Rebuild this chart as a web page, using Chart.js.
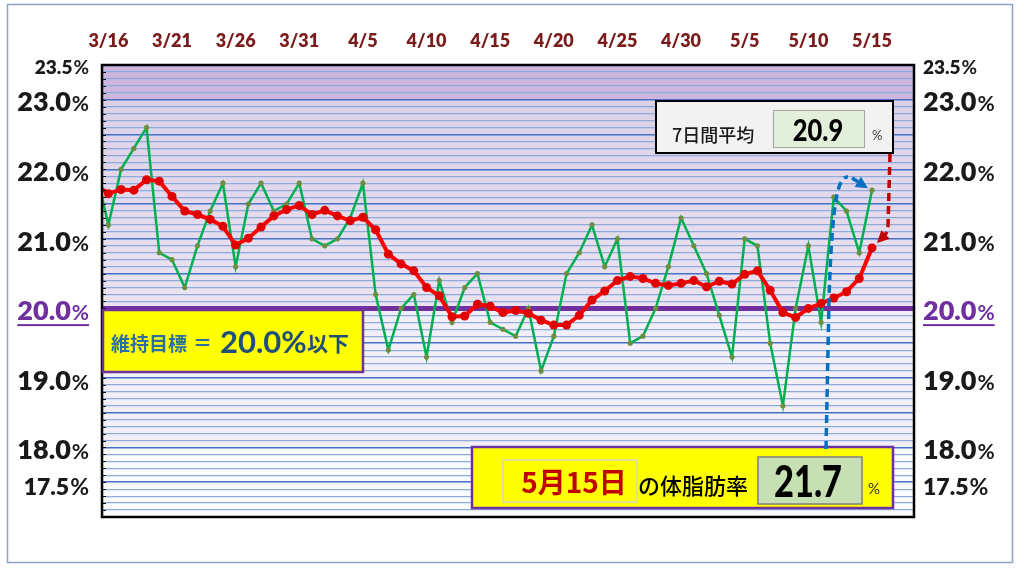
<!DOCTYPE html>
<html>
<head>
<meta charset="utf-8">
<script src="https://cdn.jsdelivr.net/npm/chart.js@4.4.1/dist/chart.umd.min.js"></script>
<style>
  html, body { margin: 0; padding: 0; background: #fff; }
  canvas { display: block; }
</style>
</head>
<body>
<canvas id="fatChart" width="1024" height="572"></canvas>
<script>
// dates from 3/15 (only the edge of that day shows) to 5/15
const dates = [
  '3/15', '3/16', '3/17', '3/18', '3/19', '3/20', '3/21', '3/22', '3/23', '3/24', '3/25',
  '3/26', '3/27', '3/28', '3/29', '3/30', '3/31',
  '4/1', '4/2', '4/3', '4/4', '4/5', '4/6', '4/7', '4/8', '4/9', '4/10',
  '4/11', '4/12', '4/13', '4/14', '4/15', '4/16', '4/17', '4/18', '4/19', '4/20',
  '4/21', '4/22', '4/23', '4/24', '4/25', '4/26', '4/27', '4/28', '4/29', '4/30',
  '5/1', '5/2', '5/3', '5/4', '5/5', '5/6', '5/7', '5/8', '5/9', '5/10',
  '5/11', '5/12', '5/13', '5/14', '5/15'
];

// daily body fat rate (%)
const dailyRate = [
  22.0, 21.2, 22.0, 22.3, 22.6, 20.8, 20.7, 20.3, 20.9, 21.4, 21.8,
  20.6, 21.5, 21.8, 21.4, 21.5, 21.8,
  21.0, 20.9, 21.0, 21.3, 21.8, 20.2, 19.4, 20.0, 20.2, 19.3,
  20.4, 19.8, 20.3, 20.5, 19.8, 19.7, 19.6, 20.0, 19.1, 19.6,
  20.5, 20.8, 21.2, 20.6, 21.0, 19.5, 19.6, 20.0, 20.6, 21.3,
  20.9, 20.5, 19.9, 19.3, 21.0, 20.9, 19.5, 18.6, 20.0, 20.9,
  19.8, 21.6, 21.4, 20.8, 21.7
];

// 7 day average (%)
const weekAvg = [
  21.78, 21.65, 21.71, 21.70, 21.85, 21.83, 21.61, 21.40, 21.35, 21.28, 21.18,
  20.91, 21.01, 21.17, 21.33, 21.42, 21.48,
  21.35, 21.41, 21.33, 21.26, 21.31, 21.13, 20.78, 20.64, 20.54, 20.30,
  20.18, 19.88, 19.89, 20.06, 20.03, 19.94, 19.97, 19.93, 19.83, 19.76,
  19.76, 19.90, 20.12, 20.25, 20.40, 20.46, 20.43, 20.36, 20.33, 20.36,
  20.40, 20.31, 20.39, 20.35, 20.49, 20.54, 20.26, 19.94, 19.87, 20.00,
  20.07, 20.15, 20.24, 20.43, 20.87
];

const tickDates = ['3/16', '3/21', '3/26', '3/31', '4/5', '4/10', '4/15', '4/20', '4/25', '4/30', '5/5', '5/10', '5/15'];
const yLabelValues = [23.5, 23.0, 22.0, 21.0, 20.0, 19.0, 18.0, 17.5];
const targetRate = 20.0;

// x = days after 3/16
const dayOf = (d) => dates.indexOf(d) - 1;
const toPoints = (arr) => arr.map((v, i) => ({ x: i - 1, y: v }));
const gridSteps = Array.from({ length: 66 }, (_, i) => (170 + i) / 10);

const last = dates.length - 1;

function pctLabel(ctx, value, x, y, align, numSize, pctSize, color, underline) {
  const num = value.toFixed(1);
  ctx.font = `800 ${numSize}px Lato`;
  const wn = ctx.measureText(num).width;
  ctx.font = `bold ${pctSize}px Lato`;
  const wp = ctx.measureText('%').width;
  const x0 = align === 'right' ? x - wn - wp : x;
  const base = y + numSize * 0.36;
  ctx.fillStyle = color;
  ctx.textAlign = 'left';
  ctx.textBaseline = 'alphabetic';
  ctx.font = `800 ${numSize}px Lato`;
  ctx.fillText(num, x0, base);
  ctx.font = `bold ${pctSize}px Lato`;
  ctx.fillText('%', x0 + wn + 1, base);
  if (underline) ctx.fillRect(x0, base + 4, wn + wp + 1, 2);
}

function arrowHead(ctx, fromX, fromY, tipX, tipY, len, half) {
  const a = Math.atan2(tipY - fromY, tipX - fromX);
  ctx.beginPath();
  ctx.moveTo(tipX, tipY);
  ctx.lineTo(tipX - len * Math.cos(a) + half * Math.sin(a), tipY - len * Math.sin(a) - half * Math.cos(a));
  ctx.lineTo(tipX - len * Math.cos(a) - half * Math.sin(a), tipY - len * Math.sin(a) + half * Math.cos(a));
  ctx.closePath();
  ctx.fill();
}

const backdrop = {
  id: 'backdrop',
  beforeDraw(chart) {
    const { ctx, chartArea: a, scales: { y } } = chart;
    const yp = (v) => y.getPixelForValue(v);
    ctx.save();
    ctx.fillStyle = '#ffffff';
    ctx.fillRect(0, 0, chart.width, chart.height);
    ctx.fillStyle = '#cdb6dd';
    ctx.fillRect(a.left, yp(23.5), a.width, yp(23.0) - yp(23.5));
    const g = ctx.createLinearGradient(0, yp(23.0), 0, yp(20.0));
    g.addColorStop(0, '#dcd0e7');
    g.addColorStop(1, '#ebe3f1');
    ctx.fillStyle = g;
    ctx.fillRect(a.left, yp(23.0), a.width, yp(20.0) - yp(23.0));
    ctx.fillStyle = '#f3eff8';
    ctx.fillRect(a.left, yp(20.0), a.width, yp(18.0) - yp(20.0));
    ctx.fillStyle = '#fafbfd';
    ctx.fillRect(a.left, yp(18.0), a.width, yp(17.0) - yp(18.0));
    ctx.strokeStyle = '#8ea4c4';
    ctx.lineWidth = 1.5;
    ctx.strokeRect(7.5, 4.5, 1005, 558);
    ctx.restore();
  },
  beforeDatasetsDraw(chart) {
    const { ctx, chartArea: a, scales: { y } } = chart;
    const ty = y.getPixelForValue(targetRate);
    ctx.save();
    ctx.strokeStyle = '#7030a0';
    ctx.lineWidth = 5;
    ctx.beginPath();
    ctx.moveTo(a.left, ty);
    ctx.lineTo(a.right, ty);
    ctx.stroke();
    ctx.restore();
  },
  afterDatasetsDraw(chart) {
    const { ctx, chartArea: a, scales: { y } } = chart;
    ctx.save();
    ctx.strokeStyle = '#111';
    ctx.lineWidth = 1;
    ctx.beginPath();
    gridSteps.forEach((v) => {
      const py = Math.round(y.getPixelForValue(v)) + 0.5;
      ctx.moveTo(a.left, py);
      ctx.lineTo(a.left + 4, py);
    });
    ctx.stroke();
    ctx.lineWidth = 2.5;
    ctx.strokeStyle = '#000';
    ctx.strokeRect(a.left, a.top, a.width, a.height);
    ctx.restore();
  },
  afterDraw(chart) {
    const { ctx, chartArea: a, scales: { x, y } } = chart;
    ctx.save();

    // side labels
    yLabelValues.forEach((v) => {
      const py = y.getPixelForValue(v) + (v === 17.5 ? 4 : 2);
      let sizes = [27, 21];
      if (v === 23.5) sizes = [19, 19];
      if (v === 17.5) sizes = [23, 23];
      const isTarget = v === targetRate;
      const color = isTarget ? '#7030a0' : '#1a1a1a';
      pctLabel(ctx, v, a.left - 14, py, 'right', sizes[0], sizes[1], color, isTarget);
      pctLabel(ctx, v, a.right + 9, py, 'left', sizes[0], sizes[1], color, isTarget);
    });

    // target box
    ctx.fillStyle = '#ffff00';
    ctx.fillRect(103, 310, 260, 62);
    ctx.strokeStyle = '#7030a0';
    ctx.lineWidth = 2.5;
    ctx.strokeRect(103, 310, 260, 62);
    ctx.textAlign = 'left';
    ctx.textBaseline = 'alphabetic';
    ctx.fillStyle = '#2e6ca4';
    ctx.font = 'bold 19px "Noto Sans CJK JP"';
    ctx.fillText('維持目標', 111, 351);
    ctx.fillText('＝', 193, 350);
    ctx.fillStyle = '#1f4e79';
    ctx.font = 'bold 31px Lato';
    ctx.fillText(targetRate.toFixed(1) + '%', 220, 353);
    ctx.font = 'bold 21px "Noto Sans CJK JP"';
    ctx.fillText('以下', 307, 351);

    // 7 day average box
    ctx.fillStyle = '#f2f2f2';
    ctx.fillRect(656, 101, 237, 52);
    ctx.strokeStyle = '#000';
    ctx.lineWidth = 2;
    ctx.strokeRect(656, 101, 237, 52);
    ctx.fillStyle = '#1a1a1a';
    ctx.font = '500 18px "Noto Sans CJK JP"';
    ctx.fillText('7日間平均', 672, 142);
    ctx.fillStyle = '#e2efda';
    ctx.fillRect(773, 110, 91, 37);
    ctx.strokeStyle = '#a5a5a5';
    ctx.lineWidth = 1;
    ctx.strokeRect(773.5, 110.5, 91, 37);
    ctx.save();
    ctx.translate(818, 141);
    ctx.scale(0.85, 1);
    ctx.fillStyle = '#000';
    ctx.textAlign = 'center';
    ctx.font = '900 30px Lato';
    ctx.fillText(weekAvg[last].toFixed(1), 0, 0);
    ctx.restore();
    ctx.fillStyle = '#404040';
    ctx.font = '13px Lato';
    ctx.fillText('%', 872, 140);

    // latest day box
    const [mon, day] = dates[last].split('/');
    ctx.fillStyle = '#ffff00';
    ctx.fillRect(472, 447, 421, 61);
    ctx.strokeStyle = '#7030a0';
    ctx.lineWidth = 2.5;
    ctx.strokeRect(472, 447, 421, 61);
    ctx.strokeStyle = '#d4d8c4';
    ctx.lineWidth = 1.5;
    ctx.strokeRect(503, 460, 134, 42);
    ctx.fillStyle = '#c00000';
    ctx.textAlign = 'center';
    ctx.font = 'bold 28px "Noto Sans CJK JP"';
    ctx.fillText(`${mon}月${day}日`, 574, 493);
    ctx.textAlign = 'left';
    ctx.fillStyle = '#000';
    ctx.font = '500 22px "Noto Sans CJK JP"';
    ctx.fillText('の体脂肪率', 638, 494);
    ctx.fillStyle = '#c6e0b4';
    ctx.fillRect(758, 457, 104, 47);
    ctx.strokeStyle = '#7f7f7f';
    ctx.lineWidth = 1.5;
    ctx.strokeRect(758, 457, 104, 47);
    ctx.save();
    ctx.translate(808, 497);
    ctx.scale(0.8, 1);
    ctx.fillStyle = '#000';
    ctx.textAlign = 'center';
    ctx.font = '900 43px Lato';
    ctx.fillText(dailyRate[last].toFixed(1), 0, 0);
    ctx.restore();
    ctx.fillStyle = '#333';
    ctx.font = '15px Lato';
    ctx.fillText('%', 868, 494);

    // arrows pointing at the last points
    const gx = x.getPixelForValue(last - 1);
    const gy = y.getPixelForValue(dailyRate[last]);
    const ry = y.getPixelForValue(weekAvg[last]);

    ctx.lineWidth = 3.5;
    ctx.setLineDash([8, 5]);
    ctx.strokeStyle = '#0070c0';
    ctx.beginPath();
    ctx.moveTo(gx - 46, 449);
    ctx.lineTo(gx - 43, 300);
    ctx.bezierCurveTo(gx - 40, 200, gx - 34, 176, gx - 24, 177);
    ctx.stroke();
    ctx.beginPath();
    ctx.moveTo(gx - 20, 178);
    ctx.lineTo(gx - 12, 183);
    ctx.stroke();
    ctx.setLineDash([]);
    ctx.fillStyle = '#0070c0';
    arrowHead(ctx, gx - 22, 177, gx - 4, gy - 2, 12, 6);

    ctx.setLineDash([8, 5]);
    ctx.strokeStyle = '#c00000';
    ctx.beginPath();
    ctx.moveTo(gx + 18, 154);
    ctx.lineTo(gx + 16, 226);
    ctx.quadraticCurveTo(gx + 15, 234, gx + 12, 236);
    ctx.stroke();
    ctx.setLineDash([]);
    ctx.fillStyle = '#c00000';
    arrowHead(ctx, gx + 16, 232, gx + 5, ry - 5, 12, 6);

    ctx.restore();
  }
};

new Chart(document.getElementById('fatChart'), {
  type: 'line',
  data: {
    datasets: [
      {
        label: '体脂肪率',
        data: toPoints(dailyRate),
        borderColor: '#00b050',
        borderWidth: 2.5,
        pointRadius: 2.6,
        pointBackgroundColor: '#6b8f3c',
        pointBorderWidth: 0,
        order: 2,
        clip: 0,
      },
      {
        label: '7日間平均',
        data: toPoints(weekAvg),
        borderColor: '#ff0000',
        borderWidth: 4,
        pointRadius: 4.5,
        pointBackgroundColor: '#e00000',
        pointBorderWidth: 0,
        order: 1,
        clip: 0,
      },
    ],
  },
  options: {
    responsive: false,
    animation: false,
    devicePixelRatio: 1,
    events: [],
    layout: { padding: { left: 102, right: 110, top: 0, bottom: 55 } },
    plugins: {
      legend: { display: false },
      tooltip: { enabled: false },
    },
    scales: {
      x: {
        type: 'linear',
        position: 'top',
        min: -0.5,
        max: 63.3,
        afterBuildTicks: (axis) => {
          axis.ticks = tickDates.map((d) => ({ value: dayOf(d) }));
        },
        afterFit: (axis) => {
          axis.height = 65;
        },
        grid: { display: false, drawTicks: false },
        border: { display: false },
        ticks: {
          autoSkip: false,
          maxRotation: 0,
          padding: 13,
          color: '#7a1c1c',
          font: { family: 'Lato', size: 18, weight: '800' },
          callback: (v) => dates[v + 1],
        },
      },
      y: {
        min: 17,
        max: 23.5,
        afterBuildTicks: (axis) => {
          axis.ticks = gridSteps.map((v) => ({ value: v }));
        },
        afterFit: (axis) => {
          axis.width = 0;
        },
        ticks: { display: false },
        border: { display: false },
        grid: {
          drawTicks: false,
          color: (c) => {
            const t = Math.round(c.tick.value * 10);
            if (t === 200) return 'rgba(0,0,0,0)';
            return t % 5 === 0 ? '#4472c4' : '#8eaadb';
          },
          lineWidth: (c) => (Math.round(c.tick.value * 10) % 5 === 0 ? 1.6 : 1.2),
        },
      },
    },
  },
  plugins: [backdrop],
});
</script>
</body>
</html>
